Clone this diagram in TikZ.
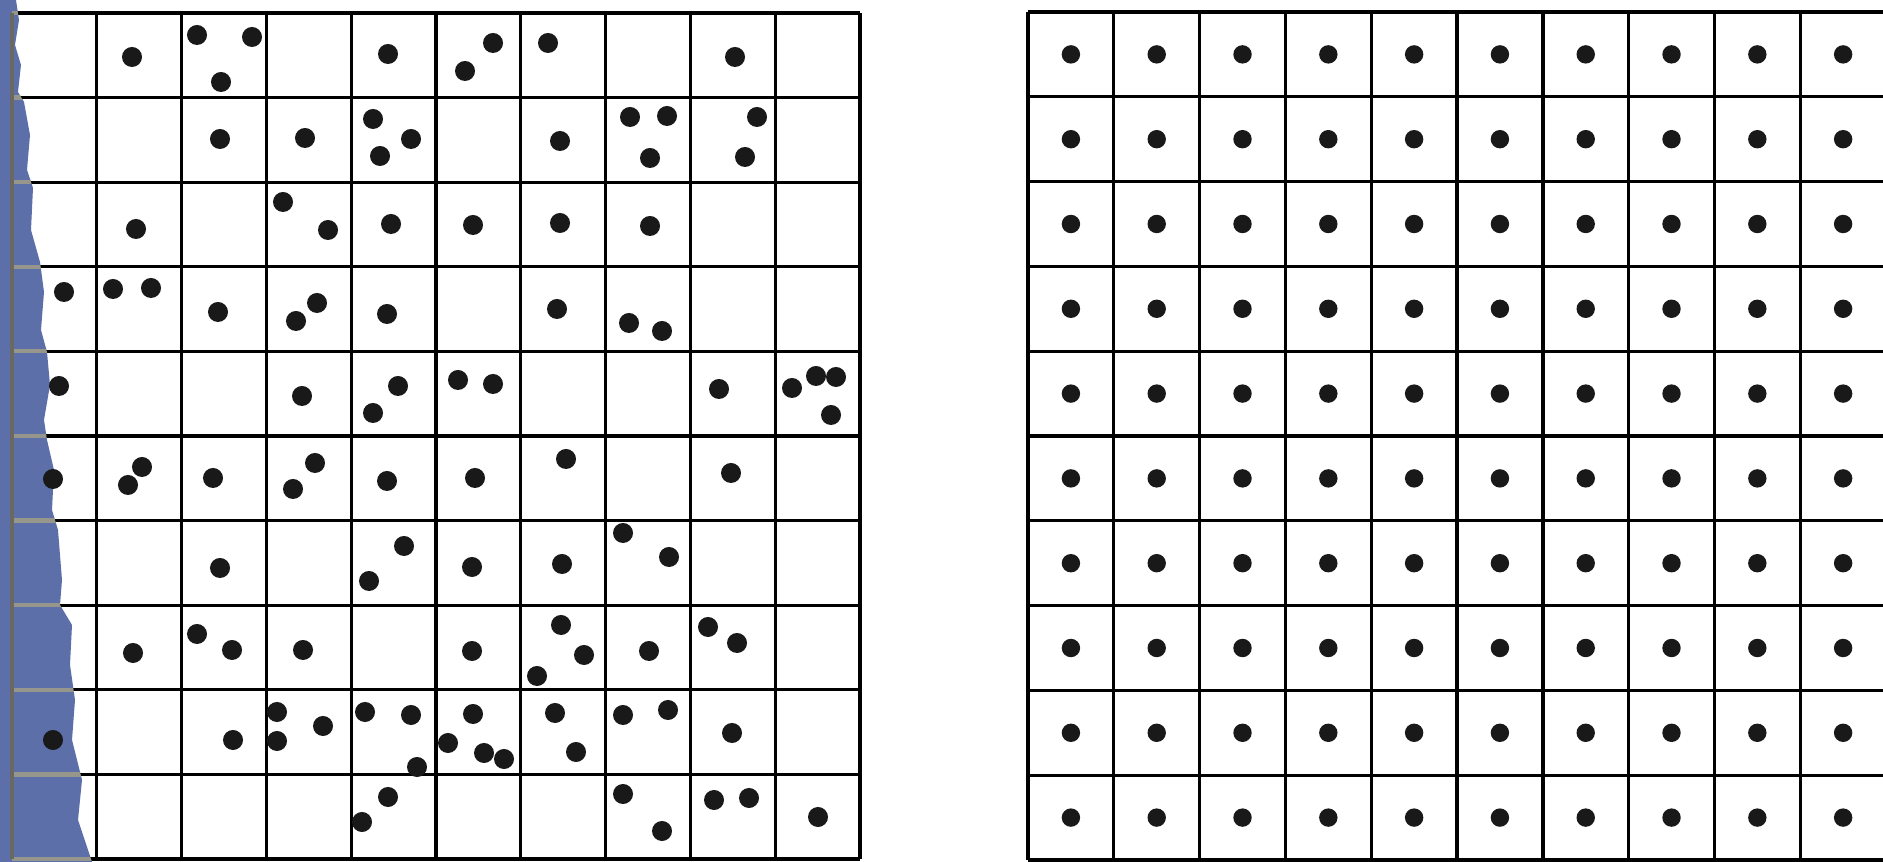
\documentclass[tikz,border=0pt]{standalone}
\definecolor{scanblue}{RGB}{92,111,168}
\definecolor{scangray}{RGB}{150,150,140}
\begin{document}
\begin{tikzpicture}[x=0.01cm,y=-0.01cm,
  gridline/.style={line width=0.95pt,black},
  dotL/.style={fill=black!90},
  dotR/.style={fill=black!90}]
\useasboundingbox (0,0) rectangle (1883,862);
\fill[white] (0,0) rectangle (1883,862);
% scan strip
\def\bluepath{(0,0) -- (16,0) -- (19,20) -- (15,45) -- (21,65) -- (18,92) -- (24,102) -- (30,135) -- (27,170) -- (33,188) -- (31,230) -- (40,262) -- (44,292) -- (41,330) -- (47,352) -- (50,385) -- (44,420) -- (47,440) -- (54,470) -- (52,510) -- (58,530) -- (62,580) -- (60,605) -- (72,625) -- (70,665) -- (75,700) -- (72,740) -- (82,780) -- (78,820) -- (92,862) -- (0,862) -- cycle}
\fill[scanblue] \bluepath;
% left grid
\foreach \i in {0,...,10} {
  \draw[gridline] ({12+84.8*\i},13) -- ({12+84.8*\i},859);
  \draw[gridline] (12,{13+84.6*\i}) -- (860,{13+84.6*\i});
}
\begin{scope}
\clip \bluepath;
\foreach \i in {0,...,10} {
  \draw[line width=1.2pt,scangray] (12,{13+84.6*\i}) -- (100,{13+84.6*\i});
}
\draw[line width=1.2pt,scangray!70!black] (12,13) -- (12,859);
\end{scope}
% left dots
\foreach \p in {
 (132,57),(197,35),(252,37),(221,82),(388,54),(465,71),(493,43),(548,43),(735,57),
 (220,139),(305,138),(373,119),(411,139),(380,156),(560,141),(630,117),(667,116),(650,158),(757,117),(745,157),
 (136,229),(283,202),(328,230),(391,224),(473,225),(560,223),(650,226),
 (64,292),(113,289),(151,288),(218,312),(317,303),(296,321),(387,314),(557,309),(629,323),(662,331),
 (59,386),(302,396),(398,386),(373,413),(458,380),(493,384),(719,389),(792,388),(816,376),(836,377),(831,415),
 (53,479),(142,467),(128,485),(213,478),(315,463),(293,489),(387,481),(475,478),(566,459),(731,473),
 (220,568),(404,546),(369,581),(472,567),(562,564),(623,533),(669,557),
 (133,653),(197,634),(232,650),(303,650),(472,651),(561,625),(584,655),(537,676),(649,651),(708,627),(737,643),
 (53,740),(233,740),(277,712),(277,741),(323,726),(365,712),(411,715),(417,767),(448,743),(473,714),(484,753),(504,759),(555,713),(576,752),(623,715),(668,710),(732,733),
 (388,797),(362,822),(623,794),(662,831),(714,800),(749,798),(818,817)}
 \fill[dotL] \p circle[radius=0.1cm];
% right grid
\foreach \i in {0,...,10} {
  \draw[gridline] ({1028+85.8*\i},12) -- ({1028+85.8*\i},860);
  \draw[gridline] (1028,{12+84.8*\i}) -- (1886,{12+84.8*\i});
}
\foreach \i in {0,...,9} \foreach \j in {0,...,9}
  \fill[dotR] ({1028+85.8*(\i+0.5)},{12+84.8*(\j+0.5)}) circle[radius=0.092cm];
\end{tikzpicture}
\end{document}
